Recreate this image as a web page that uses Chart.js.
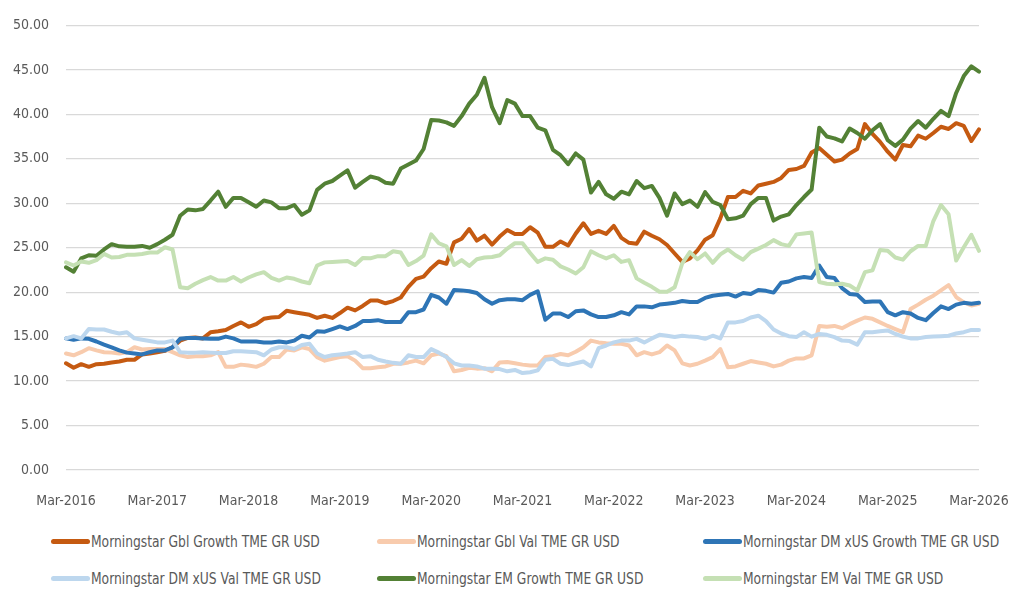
<!DOCTYPE html>
<html>
<head>
<meta charset="utf-8">
<script src="https://cdn.jsdelivr.net/npm/chart.js@4.4.1/dist/chart.umd.min.js"></script>
<style>
  body { margin: 0; background: #fff; }
  #wrap { position: relative; width: 1026px; height: 590px; font-family: 'DejaVu Sans Condensed', 'DejaVu Sans', sans-serif; }
  #chart { position: absolute; left: 0; top: 0; }
  .item { position: absolute; height: 20px; display: flex; align-items: center; color: #595959; font-size: 16px; white-space: nowrap; }
  .swatch { width: 39px; height: 5px; border-radius: 2.5px; margin-right: 1px; flex: none; }
  .name { display: inline-block; transform: scaleX(0.855); transform-origin: left center; }
</style>
</head>
<body>
<div id="wrap">
  <canvas id="chart" width="1026" height="520"></canvas>
  <div id="legend"></div>
</div>
<script>
// monthly index levels, Mar-2016 .. Mar-2026
const seriesNames = [
    'Morningstar Gbl Growth TME GR USD',
    'Morningstar Gbl Val TME GR USD',
    'Morningstar DM xUS Growth TME GR USD',
    'Morningstar DM xUS Val TME GR USD',
    'Morningstar EM Growth TME GR USD',
    'Morningstar EM Val TME GR USD'
];

const gblGrowth = [12.0, 11.5, 11.9, 11.6, 11.9, 11.95, 12.1, 12.2, 12.4, 12.4, 13.0, 13.1, 13.25, 13.4, 13.8, 14.55, 14.85, 14.9, 14.8, 15.5,
    15.6, 15.75, 16.2, 16.6, 16.1, 16.4, 17.0, 17.15, 17.2, 17.9, 17.75, 17.6, 17.45, 17.1, 17.35, 17.1, 17.65, 18.25, 17.95, 18.45,
    19.05, 19.05, 18.75, 19.0, 19.4, 20.6, 21.5, 21.75, 22.7, 23.45, 23.2, 25.6, 26.0, 27.1, 25.8, 26.35, 25.35, 26.25, 27.0, 26.55,
    26.55, 27.3, 26.7, 25.1, 25.1, 25.7, 25.25, 26.6, 27.75, 26.55, 26.9, 26.55, 27.45, 26.1, 25.55, 25.45, 26.8, 26.35, 25.95, 25.3,
    24.35, 23.4, 23.8, 24.7, 25.9, 26.4, 28.3, 30.7, 30.7, 31.4, 31.1, 32.0, 32.2, 32.4, 32.85, 33.75, 33.85, 34.2, 35.7, 36.2,
    35.45, 34.7, 34.9, 35.6, 36.1, 38.9, 37.8, 36.9, 35.8, 34.9, 36.55, 36.4, 37.6, 37.25, 37.9, 38.6, 38.35, 39.0, 38.7, 37.0, 38.3];

const gblVal = [13.1, 12.9, 13.25, 13.7, 13.45, 13.25, 13.2, 13.1, 13.25, 13.8, 13.55, 13.6, 13.6, 13.6, 13.25, 12.9, 12.7, 12.8, 12.8, 12.9,
    13.25, 11.6, 11.6, 11.85, 11.75, 11.6, 11.95, 12.7, 12.7, 13.55, 13.45, 13.8, 13.6, 12.7, 12.3, 12.5, 12.7, 12.8, 12.3, 11.45,
    11.45, 11.55, 11.65, 11.95, 11.95, 12.1, 12.3, 12.0, 12.9, 13.1, 12.8, 11.1, 11.25, 11.5, 11.4, 11.45, 11.1, 12.1, 12.15, 12.0,
    11.85, 11.75, 11.75, 12.7, 12.8, 13.05, 12.9, 13.3, 13.8, 14.55, 14.35, 14.25, 14.2, 14.2, 14.0, 12.9, 13.25, 13.0, 13.25, 14.0,
    13.45, 12.0, 11.75, 11.95, 12.3, 12.7, 13.6, 11.55, 11.65, 11.95, 12.25, 12.1, 11.95, 11.65, 11.85, 12.3, 12.55, 12.55, 12.9, 16.2,
    16.1, 16.2, 15.95, 16.4, 16.8, 17.15, 17.0, 16.6, 16.2, 15.85, 15.5, 18.1, 18.6, 19.15, 19.6, 20.2, 20.8, 19.45, 18.85, 18.5, 18.7];

const dmGrowth = [14.8, 14.65, 14.8, 14.75, 14.45, 14.1, 13.8, 13.45, 13.2, 13.1, 13.0, 13.25, 13.45, 13.45, 13.8, 14.75, 14.85, 14.85, 14.8, 14.75,
    14.75, 15.0, 14.8, 14.45, 14.45, 14.45, 14.35, 14.35, 14.45, 14.35, 14.55, 15.1, 14.9, 15.6, 15.55, 15.85, 16.15, 15.85, 16.2, 16.75,
    16.75, 16.85, 16.65, 16.65, 16.65, 17.75, 17.75, 18.05, 19.7, 19.4, 18.7, 20.25, 20.2, 20.1, 19.9, 19.2, 18.7, 19.1, 19.2, 19.2,
    19.1, 19.7, 20.1, 16.9, 17.6, 17.6, 17.2, 17.85, 17.95, 17.5, 17.2, 17.2, 17.4, 17.75, 17.5, 18.4, 18.4, 18.3, 18.6, 18.7,
    18.8, 19.0, 18.9, 18.9, 19.35, 19.6, 19.7, 19.8, 19.5, 19.9, 19.8, 20.25, 20.15, 19.95, 21.05, 21.2, 21.55, 21.7, 21.6, 23.0,
    21.7, 21.6, 20.45, 19.8, 19.7, 18.9, 18.95, 18.95, 17.75, 17.4, 17.75, 17.6, 17.1, 16.85, 17.65, 18.4, 18.1, 18.6, 18.8, 18.7, 18.8];

const dmVal = [14.8, 15.05, 14.8, 15.85, 15.8, 15.8, 15.55, 15.35, 15.5, 14.8, 14.65, 14.5, 14.35, 14.35, 14.55, 13.25, 13.2, 13.2, 13.25, 13.2,
    13.15, 13.15, 13.35, 13.35, 13.3, 13.25, 12.9, 13.55, 13.8, 13.8, 13.6, 14.05, 14.2, 13.1, 12.7, 12.9, 13.0, 13.1, 13.25, 12.7,
    12.8, 12.4, 12.2, 12.05, 11.95, 12.9, 12.7, 12.7, 13.6, 13.2, 12.7, 12.0, 11.75, 11.75, 11.65, 11.4, 11.4, 11.35, 11.1, 11.25,
    10.9, 11.0, 11.2, 12.4, 12.5, 11.95, 11.8, 12.0, 12.2, 11.65, 13.7, 14.0, 14.35, 14.55, 14.55, 14.75, 14.35, 14.8, 15.2, 15.1,
    14.95, 15.1, 15.0, 14.95, 14.75, 15.1, 14.8, 16.6, 16.6, 16.75, 17.15, 17.35, 16.75, 15.8, 15.35, 15.05, 14.95, 15.5, 15.0, 15.3,
    15.2, 14.95, 14.55, 14.5, 14.1, 15.5, 15.5, 15.6, 15.7, 15.3, 15.0, 14.8, 14.8, 14.95, 15.0, 15.05, 15.1, 15.35, 15.5, 15.75, 15.75];

const emGrowth = [22.8, 22.3, 23.8, 24.15, 24.1, 24.8, 25.4, 25.15, 25.1, 25.1, 25.2, 25.0, 25.4, 25.9, 26.45, 28.6, 29.3, 29.2, 29.35, 30.3,
    31.3, 29.6, 30.6, 30.6, 30.1, 29.6, 30.3, 30.1, 29.45, 29.45, 29.8, 28.7, 29.2, 31.5, 32.2, 32.5, 33.1, 33.7, 31.75, 32.4,
    33.0, 32.8, 32.3, 32.2, 33.9, 34.35, 34.8, 36.1, 39.35, 39.3, 39.1, 38.7, 39.8, 41.2, 42.2, 44.1, 40.8, 39.0, 41.6, 41.2,
    39.8, 39.8, 38.5, 38.2, 36.0, 35.4, 34.4, 35.6, 34.9, 31.2, 32.4, 31.0, 30.5, 31.3, 31.0, 32.5, 31.7, 31.95, 30.6, 28.6,
    31.1, 29.9, 30.3, 29.6, 31.25, 30.15, 29.8, 28.2, 28.3, 28.6, 29.9, 30.6, 30.6, 28.05, 28.5, 28.75, 29.8, 30.7, 31.55, 38.5,
    37.5, 37.3, 36.95, 38.4, 37.9, 37.25, 38.2, 38.9, 37.1, 36.45, 37.15, 38.4, 39.25, 38.5, 39.5, 40.4, 39.8, 42.4, 44.3, 45.4, 44.8];

const emVal = [23.35, 23.0, 23.45, 23.3, 23.6, 24.3, 23.9, 23.95, 24.2, 24.2, 24.3, 24.45, 24.45, 25.05, 24.8, 20.55, 20.45, 20.95, 21.35, 21.7,
    21.3, 21.3, 21.7, 21.2, 21.65, 22.0, 22.25, 21.6, 21.3, 21.65, 21.5, 21.2, 21.0, 23.0, 23.35, 23.4, 23.45, 23.5, 23.05, 23.85,
    23.8, 24.05, 24.05, 24.6, 24.45, 23.05, 23.5, 24.1, 26.5, 25.5, 25.15, 23.05, 23.6, 22.95, 23.7, 23.9, 23.95, 24.15, 24.9, 25.5,
    25.5, 24.4, 23.4, 23.8, 23.65, 22.9, 22.55, 22.1, 22.8, 24.6, 24.15, 23.8, 24.15, 23.4, 23.6, 21.55, 21.05, 20.6, 20.05, 20.05,
    20.55, 23.25, 24.5, 23.7, 24.35, 23.3, 24.25, 24.8, 24.15, 23.65, 24.5, 24.9, 25.3, 25.85, 25.4, 25.2, 26.5, 26.6, 26.7, 21.15,
    20.95, 20.9, 20.95, 20.75, 20.2, 22.25, 22.45, 24.75, 24.65, 23.9, 23.65, 24.6, 25.2, 25.2, 28.0, 29.8, 28.75, 23.55, 25.05, 26.45, 24.65];

const monthNames = ['Jan', 'Feb', 'Mar', 'Apr', 'May', 'Jun', 'Jul', 'Aug', 'Sep', 'Oct', 'Nov', 'Dec'];
const labels = [];
for (let i = 0; i < gblGrowth.length; i++) {
    const m = (2 + i) % 12;
    const y = 2016 + Math.floor((2 + i) / 12);
    labels.push(monthNames[m] + '-' + y);
}

const colors = ['#C55A11', '#F8CBAD', '#2E75B6', '#BDD7EE', '#538135', '#C5E0B4'];
const allSeries = [gblGrowth, gblVal, dmGrowth, dmVal, emGrowth, emVal];

const fontFamily = "'DejaVu Sans Condensed', 'DejaVu Sans', sans-serif";
const textColor = '#595959';

const datasets = allSeries.map((data, i) => ({
    label: seriesNames[i],
    data: data,
    borderColor: colors[i],
    backgroundColor: colors[i],
    borderWidth: 4,
    pointRadius: 0,
    tension: 0,
    borderJoinStyle: 'round',
    borderCapStyle: 'round',
    order: allSeries.length - i   // later series on top, like the original
}));

new Chart(document.getElementById('chart').getContext('2d'), {
    type: 'line',
    data: { labels: labels, datasets: datasets },
    options: {
        responsive: false,
        animation: false,
        layout: { padding: { top: 18, right: 47, left: 0, bottom: 0 } },
        plugins: {
            legend: { display: false },
            tooltip: { enabled: false }
        },
        scales: {
            x: {
                offset: false,
                grid: { display: false },
                border: { display: false },
                afterFit: function (scale) { scale.height = 50; },
                ticks: {
                    autoSkip: false,
                    maxRotation: 0,
                    minRotation: 0,
                    padding: 15,
                    color: textColor,
                    font: { family: fontFamily, size: 14 },
                    callback: function (value, index) {
                        return index % 12 === 0 ? labels[index] : '';
                    }
                }
            },
            y: {
                min: 0,
                max: 50,
                border: { display: false },
                grid: { color: '#D9D9D9', lineWidth: 1.3, drawTicks: false },
                afterFit: function (scale) { scale.width = 66; },
                ticks: {
                    stepSize: 5,
                    padding: 17,
                    color: textColor,
                    font: { family: fontFamily, size: 14 },
                    callback: function (value) { return value.toFixed(2); }
                }
            }
        }
    }
});

// legend: 3 columns x 2 rows under the plot
const legendCols = [51, 377, 703];
const legendRows = [531, 568];
const legend = document.getElementById('legend');
seriesNames.forEach((name, i) => {
    const item = document.createElement('div');
    item.className = 'item';
    item.style.left = legendCols[i % 3] + 'px';
    item.style.top = legendRows[Math.floor(i / 3)] + 'px';
    const sw = document.createElement('span');
    sw.className = 'swatch';
    sw.style.background = colors[i];
    const txt = document.createElement('span');
    txt.className = 'name';
    txt.textContent = name;
    item.appendChild(sw);
    item.appendChild(txt);
    legend.appendChild(item);
});
</script>
</body>
</html>
